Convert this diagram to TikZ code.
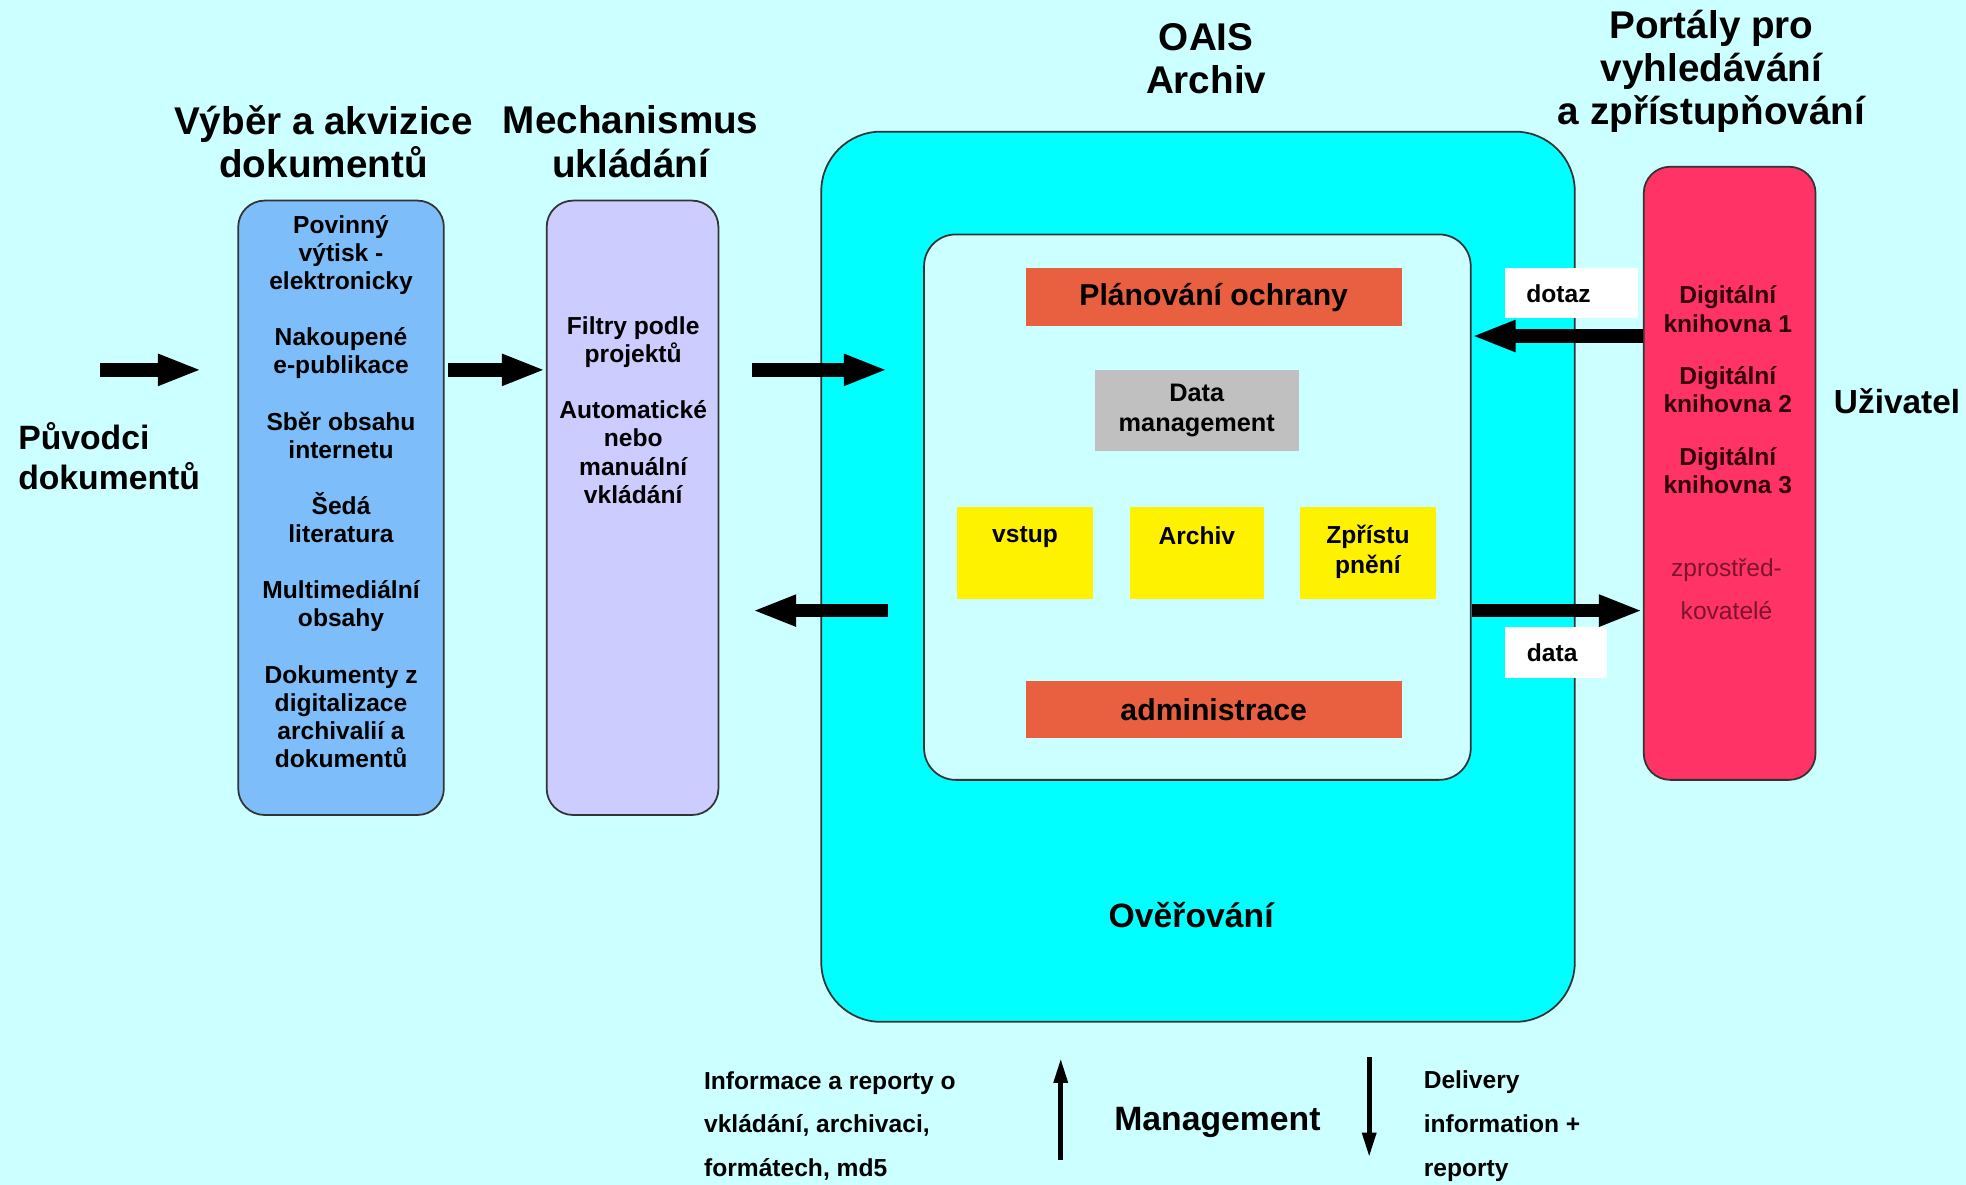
\documentclass[tikz,border=0pt]{standalone}
\usepackage{fontspec}
\setmainfont{Liberation Sans}
\usetikzlibrary{arrows.meta,positioning}
\definecolor{bgcyan}{RGB}{204,255,255}
\definecolor{acqblue}{RGB}{125,190,250}
\definecolor{mechlila}{RGB}{204,204,255}
\definecolor{oaiscyan}{RGB}{0,255,255}
\definecolor{planorange}{RGB}{232,96,64}
\definecolor{dmgray}{RGB}{192,192,192}
\definecolor{portalred}{RGB}{255,51,102}
\definecolor{libtext}{RGB}{50,0,10}
\definecolor{darkred}{RGB}{125,20,45}
\newcommand{\pxl}{0.3568pt}
\begin{document}
\begin{tikzpicture}[x=0.3568pt,y=-0.3568pt]
  \tikzset{
    panel/.style={draw=black!80, line width=0.5pt, inner sep=0pt, rounded corners=7.5pt},
    flat/.style={inner sep=0pt},
    title/.style={font=\bfseries\fontsize{11}{12.3}\selectfont, align=center, inner sep=0pt},
    boxtext/.style={font=\bfseries\fontsize{7}{8}\selectfont, align=center, inner sep=0pt},
    note/.style={font=\bfseries\fontsize{7}{12.5}\selectfont, align=left, anchor=west, inner sep=0pt},
    bigarrow/.style={line width=3.9pt, -{Triangle[length=12.5pt,width=8.2pt]}},
    thinarrow/.style={line width=1.4pt, -{Triangle[length=7pt,width=3.8pt]}}
  }
%% Background
  \fill[bgcyan] (0,0) rectangle (1568,945);
  \useasboundingbox (0,0) rectangle (1568,945);
%% Titles
  \node[title] (tacq) at (258,113) {Výběr a akvizice\\dokumentů};
  \node[title] (tmech) at (503,113) {Mechanismus\\ukládání};
  \node[title] (toais) at (962,47) {OAIS\\Archiv};
  \node[title] (tportal) at (1365,57) {Portály pro\\vyhledávání\\a zpřístupňování};
  \node[font=\bfseries\fontsize{9.6}{11.4}\selectfont, align=left, anchor=west, inner sep=0pt] (origin) at (14,364) {Původci\\dokumentů};
  \node[font=\bfseries\fontsize{9.5}{11}\selectfont, inner sep=0pt] (user) at (1513,320) {Uživatel};
%% Panels
  \node[panel, fill=acqblue, minimum width=164*\pxl, minimum height=490*\pxl] (acq) at (272,405) {};
  \node[panel, fill=mechlila, minimum width=137*\pxl, minimum height=490*\pxl] (mech) at (504.5,405) {};
  \node[panel, fill=oaiscyan, rounded corners=17pt, minimum width=601*\pxl, minimum height=710*\pxl] (oais) at (955.5,460) {};
  \node[panel, fill=bgcyan, rounded corners=9pt, minimum width=436*\pxl, minimum height=435*\pxl] (inner) at (955,404.5) {};
  \node[panel, fill=portalred, minimum width=137*\pxl, minimum height=489*\pxl] (portal) at (1379.5,377.5) {};
%% Panel texts
  \node[boxtext] (acqtext) at (272,392) {Povinný\\výtisk -\\elektronicky\\[8pt]Nakoupené\\e-publikace\\[8pt]Sběr obsahu\\internetu\\[8pt]Šedá\\literatura\\[8pt]Multimediální\\obsahy\\[8pt]Dokumenty z\\digitalizace\\archivalií a\\dokumentů};
  \node[boxtext] (mechtext) at (505,327) {Filtry podle\\projektů\\[8pt]Automatické\\nebo\\manuální\\vkládání};
  \node[boxtext, text=libtext] (libs) at (1378,311) {Digitální\\knihovna 1\\[7pt]Digitální\\knihovna 2\\[7pt]Digitální\\knihovna 3};
  \node[font=\fontsize{7}{12.2}\selectfont, align=center, inner sep=0pt, text=darkred] (broker) at (1377,470) {zprostřed-\\kovatelé};
%% OAIS functions
  \node[flat, fill=planorange, minimum width=300*\pxl, minimum height=46*\pxl, font=\bfseries\fontsize{8.6}{10}\selectfont] (plan) at (968,237) {Plánování ochrany};
  \node[flat, fill=dmgray, minimum width=163*\pxl, minimum height=65*\pxl, font=\bfseries\fontsize{7.2}{8.6}\selectfont, align=center] (dm) at (954.5,327.5) {Data\\management};
  \node[flat, fill=yellow, minimum width=109*\pxl, minimum height=74*\pxl, label={[boxtext, anchor=north, yshift=-16*\pxl]north:vstup}] (ingest) at (817.5,441) {};
  \node[flat, fill=yellow, minimum width=107*\pxl, minimum height=74*\pxl, label={[boxtext, anchor=north, yshift=-16*\pxl]north:Archiv}] (store) at (954.5,441) {};
  \node[flat, fill=yellow, minimum width=108*\pxl, minimum height=74*\pxl, label={[boxtext, anchor=north, yshift=-15*\pxl, font=\bfseries\fontsize{7}{8.6}\selectfont]north:Zpřístu\\pnění}] (access) at (1091,441) {};
  \node[flat, fill=planorange, minimum width=300*\pxl, minimum height=46*\pxl, font=\bfseries\fontsize{8.6}{10}\selectfont] (admin) at (968,566) {administrace};
  \node[font=\bfseries\fontsize{9.6}{11}\selectfont, inner sep=0pt] (check) at (950,730) {Ověřování};
%% Query / data tags
  \node[flat, fill=white, minimum width=106*\pxl, minimum height=40*\pxl, label={[boxtext, xshift=-10*\pxl]center:dotaz}] (dotaz) at (1253,234) {};
  \node[flat, fill=white, minimum width=82*\pxl, minimum height=41*\pxl, label={[boxtext, xshift=-3*\pxl]center:data}] (data) at (1241,520.5) {};
%% Arrows
  \coordinate (src1) at (80,295);
  \coordinate (src2) at (161,295);
  \coordinate (ing1) at (600,295);
  \coordinate (ing2) at (708,295);
  \coordinate (out1) at (708,487);
  \coordinate (out2) at (600,487);
  \coordinate (query) at (1240,268);
  \coordinate (deliv) at (1240,487);
  \draw[bigarrow] (src1) -- (src2);
  \draw[bigarrow] ([xshift=3*\pxl]acq.east |- src1) -- (mech.west |- src1);
  \draw[bigarrow] (ing1) -- (ing2);
  \draw[bigarrow] (out1) -- (out2);
  \draw[bigarrow] (portal.west |- query) -- (inner.east |- query);
  \draw[bigarrow] (inner.east |- deliv) -- (portal.west |- deliv);
%% Management
  \node[note] (reports) at (561,898) {Informace a reporty o\\vkládání, archivaci,\\formátech, md5};
  \node[note] (delivery) at (1135,898) {Delivery\\information +\\reporty};
  \node[font=\bfseries\fontsize{9.6}{11}\selectfont, inner sep=0pt] (mgmt) at (971,895) {Management};
  \coordinate (up1) at (846,925);
  \coordinate (up2) at (846,844);
  \coordinate (dn1) at (1092,843);
  \coordinate (dn2) at (1092,923);
  \draw[thinarrow] (up1) -- (up2);
  \draw[thinarrow] (dn1) -- (dn2);
\end{tikzpicture}
\end{document}
